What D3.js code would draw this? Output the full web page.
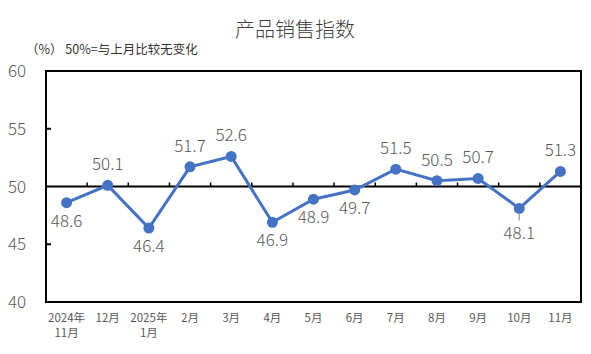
<!DOCTYPE html>
<html>
<head>
<meta charset="utf-8">
<script src="https://cdn.jsdelivr.net/npm/d3@7"></script>
<style>
  body { margin: 0; background: #fff; }
  svg text { font-family: "Noto Sans CJK SC", "Noto Sans", sans-serif; }
</style>
</head>
<body>
<div id="chart"></div>
<script>
// month labels, two lines each
var months = ["2024年|11月", "12月", "2025年|1月", "2月", "3月", "4月", "5月", "6月", "7月", "8月", "9月", "10月", "11月"];
var values = [48.6, 50.1, 46.4, 51.7, 52.6, 46.9, 48.9, 49.7, 51.5, 50.5, 50.7, 48.1, 51.3];
var labelSide = ["below", "above", "below", "above", "above", "below", "below", "below", "above", "above", "above", "below", "above"];
var yTicks = [40, 45, 50, 55, 60];

var width = 591, height = 354;
var margin = {top: 71, right: 10, bottom: 52, left: 46};

var svg = d3.select("#chart").append("svg")
    .attr("width", width)
    .attr("height", height);

var x = d3.scaleBand()
    .domain(months)
    .range([margin.left, width - margin.right]);

var y = d3.scaleLinear()
    .domain([40, 60])
    .range([height - margin.bottom, margin.top]);

// title
svg.append("text")
    .attr("x", 295).attr("y", 37)
    .attr("text-anchor", "middle")
    .style("font-size", "20px")
    .style("font-weight", 300)
    .style("fill", "#404040")
    .text("产品销售指数");

svg.append("text")
    .attr("x", 26).attr("y", 54)
    .style("font-size", "12.5px")
    .style("fill", "#333")
    .text("（%） 50%=与上月比较无变化");

// y labels
svg.selectAll(".ylab")
    .data(yTicks)
    .enter().append("text")
    .attr("class", "ylab")
    .attr("x", 17)
    .attr("y", function(d) { return y(d) + 6; })
    .attr("text-anchor", "middle")
    .style("font-size", "17px")
    .style("font-weight", 300)
    .style("fill", "#595959")
    .text(function(d) { return d; });

// small ticks on the left border
svg.selectAll(".ytick")
    .data([45, 55])
    .enter().append("line")
    .attr("x1", margin.left).attr("x2", margin.left + 5)
    .attr("y1", function(d) { return y(d); })
    .attr("y2", function(d) { return y(d); })
    .attr("stroke", "#000").attr("stroke-width", 2);

// 50 line with ticks at band edges
svg.append("line")
    .attr("x1", margin.left).attr("x2", width - margin.right)
    .attr("y1", y(50)).attr("y2", y(50))
    .attr("stroke", "#000").attr("stroke-width", 2);

svg.selectAll(".xtick")
    .data(months.slice(1))
    .enter().append("line")
    .attr("x1", function(d) { return x(d); })
    .attr("x2", function(d) { return x(d); })
    .attr("y1", y(50)).attr("y2", y(50) - 4)
    .attr("stroke", "#000").attr("stroke-width", 1.5);

// plot border
svg.append("rect")
    .attr("x", margin.left).attr("y", margin.top)
    .attr("width", width - margin.right - margin.left)
    .attr("height", height - margin.bottom - margin.top)
    .attr("fill", "none")
    .attr("stroke", "#000").attr("stroke-width", 2);

// x labels
var xl = svg.selectAll(".xlab")
    .data(months)
    .enter().append("text")
    .attr("class", "xlab")
    .attr("text-anchor", "middle")
    .style("font-size", "11.5px")
    .style("fill", "#595959");

xl.selectAll("tspan")
    .data(function(d) { return d.split("|").map(function(t) { return {t: t, m: d}; }); })
    .enter().append("tspan")
    .attr("x", function(d) { return x(d.m) + x.bandwidth() / 2; })
    .attr("y", function(d, i) { return 322 + i * 15; })
    .text(function(d) { return d.t; });

var pts = months.map(function(m, i) {
    return {m: m, v: values[i], side: labelSide[i]};
});

var line = d3.line()
    .x(function(d) { return x(d.m) + x.bandwidth() / 2; })
    .y(function(d) { return y(d.v); });

svg.append("path")
    .datum(pts)
    .attr("d", line)
    .attr("fill", "none")
    .attr("stroke", "#4472C4")
    .attr("stroke-width", 3);

svg.selectAll(".dot")
    .data(pts)
    .enter().append("circle")
    .attr("cx", function(d) { return x(d.m) + x.bandwidth() / 2; })
    .attr("cy", function(d) { return y(d.v); })
    .attr("r", 5.5)
    .attr("fill", "#4472C4");

// leader line for the 10月 label
svg.append("line")
    .attr("x1", x("10月") + x.bandwidth() / 2)
    .attr("x2", x("10月") + x.bandwidth() / 2)
    .attr("y1", y(48.1) + 5).attr("y2", y(48.1) + 12)
    .attr("stroke", "#a6a6a6").attr("stroke-width", 1.5);

svg.selectAll(".vlab")
    .data(pts)
    .enter().append("text")
    .attr("class", "vlab")
    .attr("x", function(d) { return x(d.m) + x.bandwidth() / 2; })
    .attr("y", function(d) {
        if (d.m == "10月") return y(d.v) + 31;
        return d.side == "above" ? y(d.v) - 15 : y(d.v) + 24;
    })
    .attr("text-anchor", "middle")
    .style("font-size", "17px")
    .style("font-weight", 300)
    .style("fill", "#595959")
    .text(function(d) { return d.v.toFixed(1); });
</script>
</body>
</html>
